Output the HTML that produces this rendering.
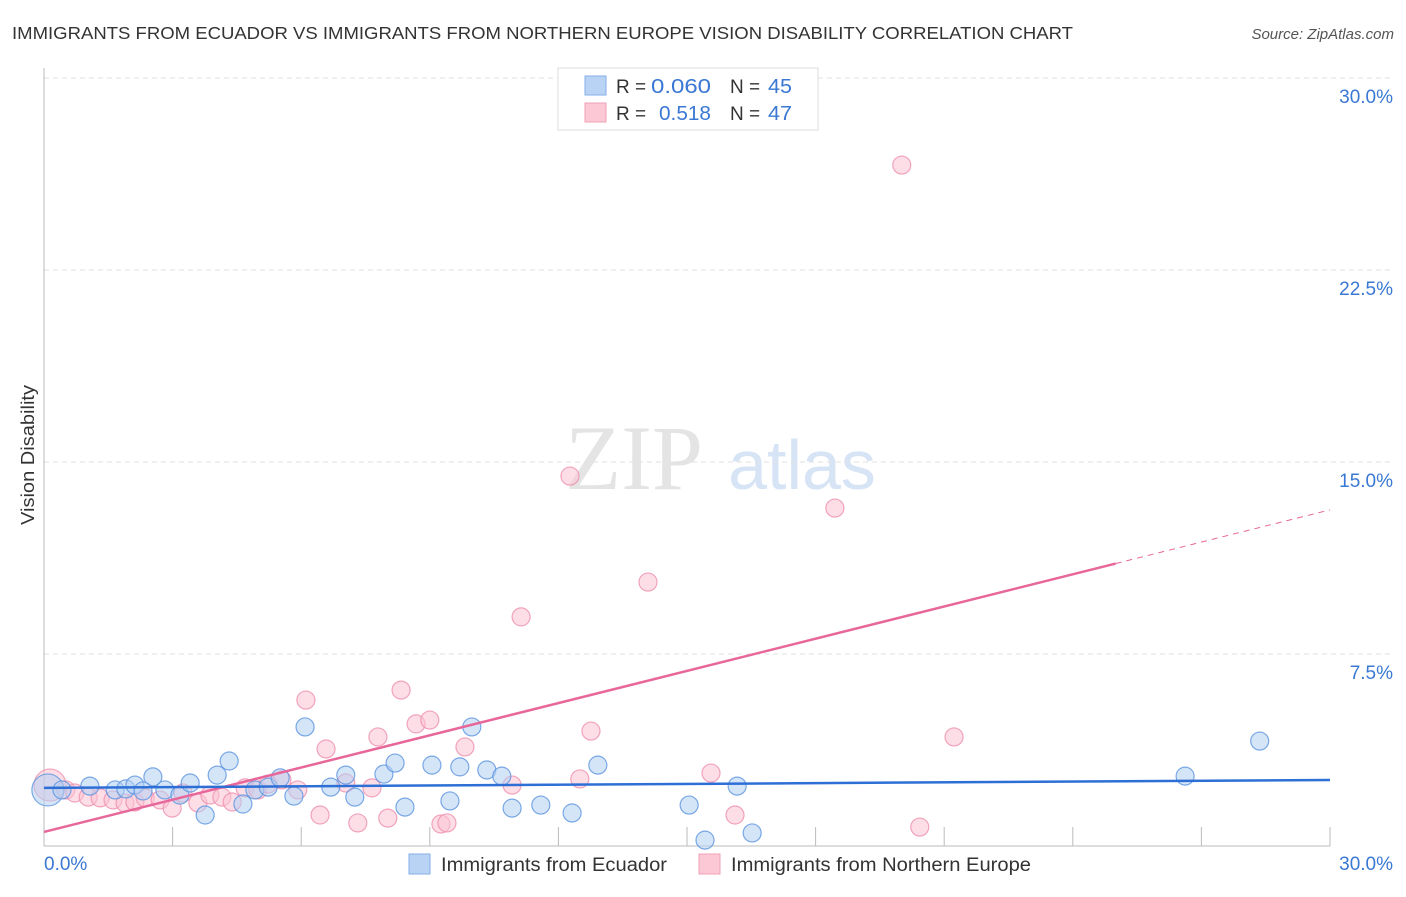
<!DOCTYPE html>
<html><head><meta charset="utf-8">
<style>
body{margin:0;background:#fff;font-family:"Liberation Sans",sans-serif;}
svg text{font-family:"Liberation Sans",sans-serif;}
</style></head>
<body>
<svg id="chart" width="1406" height="892" viewBox="0 0 1406 892" xmlns="http://www.w3.org/2000/svg">
<text x="12" y="39" font-size="17.5" fill="#333" textLength="1061" lengthAdjust="spacingAndGlyphs">IMMIGRANTS FROM ECUADOR VS IMMIGRANTS FROM NORTHERN EUROPE VISION DISABILITY CORRELATION CHART</text>
<text x="1394" y="39" font-size="15" fill="#555" font-style="italic" text-anchor="end">Source: ZipAtlas.com</text>
<g>
<text x="634" y="489" font-size="92" font-family="Liberation Serif" fill="#e4e4e4" text-anchor="middle" style="font-family:'Liberation Serif',serif">ZIP</text>
<text x="802" y="489" font-size="70" fill="#d6e4f5" text-anchor="middle">atlas</text>
</g>
<g id="grid"></g>
<g id="axes"></g>
<g id="marks"></g>
<g>
<rect x="558" y="68" width="260" height="62" fill="#fff" stroke="#ddd"/>
<rect x="585" y="76" width="21" height="19" fill="#b9d3f5" stroke="#86aee8"/>
<rect x="585" y="103" width="21" height="19" fill="#fcc8d6" stroke="#f0a0b8"/>
<text x="616" y="93" font-size="19" fill="#333">R =</text>
<text x="651" y="93" font-size="20" fill="#3a78d4" textLength="60" lengthAdjust="spacingAndGlyphs">0.060</text>
<text x="730" y="93" font-size="19" fill="#333">N =</text>
<text x="768" y="93" font-size="20" fill="#3a78d4" textLength="24" lengthAdjust="spacingAndGlyphs">45</text>
<text x="616" y="120" font-size="19" fill="#333">R =</text>
<text x="659" y="120" font-size="20" fill="#3a78d4" textLength="52" lengthAdjust="spacingAndGlyphs">0.518</text>
<text x="730" y="120" font-size="19" fill="#333">N =</text>
<text x="768" y="120" font-size="20" fill="#3a78d4" textLength="24" lengthAdjust="spacingAndGlyphs">47</text>
</g>
<g>
<rect x="409" y="854" width="21" height="20" fill="#b9d3f5" stroke="#86aee8"/>
<text x="441" y="871" font-size="19" fill="#333" textLength="226" lengthAdjust="spacingAndGlyphs">Immigrants from Ecuador</text>
<rect x="699" y="854" width="21" height="20" fill="#fcc8d6" stroke="#f0a0b8"/>
<text x="731" y="871" font-size="19" fill="#333" textLength="300" lengthAdjust="spacingAndGlyphs">Immigrants from Northern Europe</text>
</g>
<text transform="translate(34,455) rotate(-90)" font-size="18" fill="#333" text-anchor="middle" textLength="140" lengthAdjust="spacingAndGlyphs">Vision Disability</text>
</svg>
<script>
const yTicks=[7.5,15,22.5,30];
const yTickLabels=["7.5%","15.0%","22.5%","30.0%"];
const xTickVals=[0,3,6,9,12,15,18,21,24,27,30];
const blueX=[0.09,0.42,1.07,1.66,1.91,2.12,2.54,2.31,2.82,3.17,3.41,3.76,4.04,4.32,4.64,4.92,5.23,5.51,5.83,6.09,6.69,7.04,7.25,7.93,8.19,8.42,9.05,9.47,9.70,9.98,10.33,10.68,10.92,11.59,12.32,12.92,15.05,15.42,16.17,16.52,26.62,28.36];
const blueY=[2.19,2.19,2.34,2.19,2.23,2.38,2.70,2.15,2.19,1.99,2.46,1.21,2.77,3.32,1.64,2.19,2.30,2.66,1.95,4.65,2.30,2.77,1.91,2.81,3.24,1.52,3.16,1.76,3.09,4.65,2.97,2.73,1.48,1.60,1.29,3.16,1.60,0.23,2.34,0.51,2.73,4.10];
const pinkX=[0.14,0.51,0.72,1.03,1.31,1.61,1.89,2.12,2.36,2.71,2.99,3.24,3.59,3.87,4.15,4.39,4.69,4.99,5.23,5.55,5.92,6.11,6.44,6.58,7.04,7.32,7.65,7.79,8.02,8.33,8.68,9.00,9.26,9.40,9.82,10.92,11.13,12.27,12.50,12.76,14.09,15.56,16.12,18.45,20.01,20.43,21.23];
const pinkY=[2.38,2.19,2.07,1.91,1.88,1.80,1.68,1.72,1.88,1.80,1.48,2.07,1.68,1.99,1.91,1.72,2.27,2.19,2.42,2.58,2.19,5.70,1.21,3.79,2.46,0.90,2.27,4.26,1.09,6.09,4.77,4.92,0.86,0.90,3.87,2.38,8.95,14.45,2.62,4.49,10.31,2.85,1.21,13.20,26.60,0.74,4.26];
const blueTrend=[2.27,2.58];
const pinkTrend=[0.55,13.13];
const pinkSolidEnd=25;

const NS="http://www.w3.org/2000/svg";
const X0=44,X1=1330,Y0=846,Y30=78;
const sx=v=>X0+(X1-X0)*v/30;
const sy=v=>Y0-(Y0-Y30)*v/30;
function mk(t,a,p){const e=document.createElementNS(NS,t);for(const k in a)e.setAttribute(k,a[k]);p.appendChild(e);return e;}
const grid=document.getElementById('grid'),axes=document.getElementById('axes'),marks=document.getElementById('marks');
yTicks.forEach((v,i)=>{
 const l=mk('line',{x1:X0,x2:1394,y1:sy(v),y2:sy(v),stroke:'#e2e2e2','stroke-dasharray':'5,4'},grid);
 
 
 const t=mk('text',{x:1393,y:sy(v)+25,'font-size':19,fill:'#3a78d4','text-anchor':'end'},axes);
 t.textContent=yTickLabels[i];
 
 
});
const ya=mk('line',{x1:X0,x2:X0,y1:68,y2:Y0,stroke:'#bbb'},axes);


const xa=mk('line',{x1:X0,x2:X1,y1:Y0,y2:Y0,stroke:'#bbb'},axes);


xTickVals.forEach(v=>{
 const t=mk('line',{x1:sx(v),x2:sx(v),y1:Y0-19,y2:Y0,stroke:'#bbb'},axes);
 
 
});
const xl=mk('text',{x:44,y:870,'font-size':19,fill:'#3a78d4'},axes);xl.textContent='0.0%';


const xr=mk('text',{x:1393,y:870,'font-size':19,fill:'#3a78d4','text-anchor':'end'},axes);xr.textContent='30.0%';



function dots(xs,ys,fill,stroke,name){
 xs.forEach((x,i)=>{
  const r=i===0?16:9;
  const c=mk('circle',{cx:sx(x),cy:sy(ys[i]),r:r,fill:fill,'fill-opacity':0.55,stroke:stroke,'stroke-width':1.2,'stroke-opacity':0.8},marks);
  
  
 });
}
dots(pinkX,pinkY,'#fbc3d3','#ee8fae','northern-europe-point');
dots(blueX,blueY,'#b3cff3','#5b93e0','ecuador-point');
const pAt=x=>pinkTrend[0]+(pinkTrend[1]-pinkTrend[0])*x/30;
const pl=mk('line',{x1:sx(0),y1:sy(pinkTrend[0]),x2:sx(pinkSolidEnd),y2:sy(pAt(pinkSolidEnd)),stroke:'#e8679a','stroke-width':2.5},marks);


const pd=mk('line',{x1:sx(pinkSolidEnd),y1:sy(pAt(pinkSolidEnd)),x2:sx(30),y2:sy(pinkTrend[1]),stroke:'#e8679a','stroke-width':1,'stroke-dasharray':'6,5'},marks);


const bl=mk('line',{x1:sx(0),y1:sy(blueTrend[0]),x2:sx(30),y2:sy(blueTrend[1]),stroke:'#2e6fd6','stroke-width':2.5},marks);


</script>
</body></html>
